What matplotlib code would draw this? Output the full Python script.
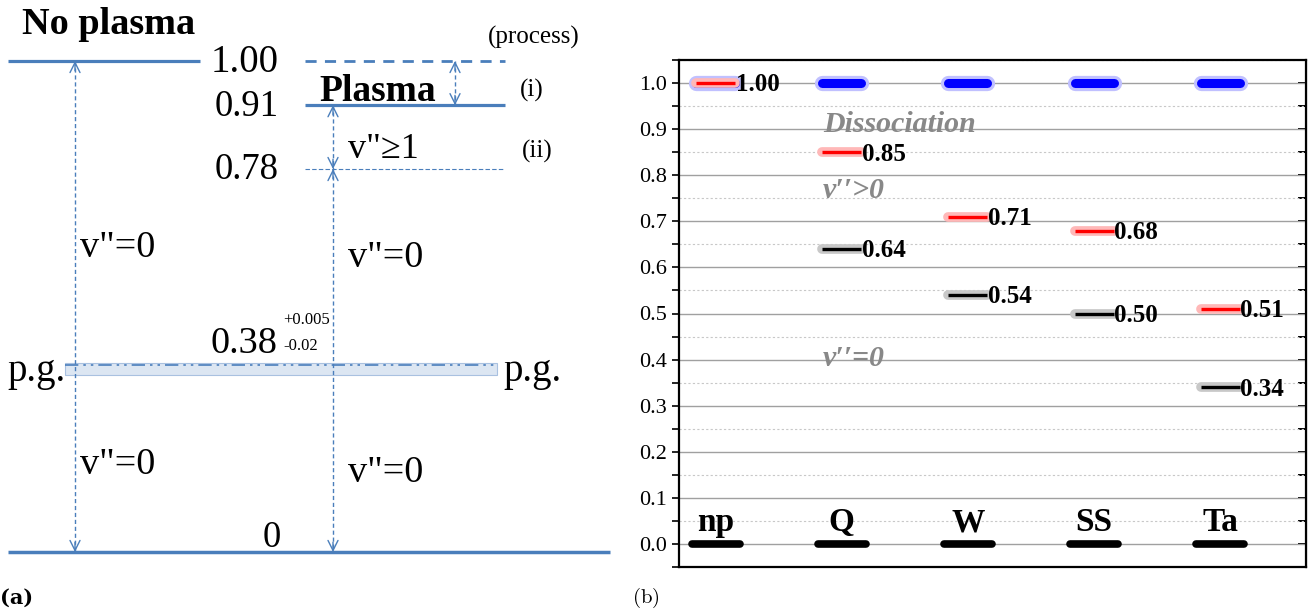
import matplotlib
matplotlib.use("Agg")
import matplotlib.pyplot as plt
from matplotlib.patches import Rectangle
from matplotlib.ticker import MultipleLocator, FormatStrFormatter

# ---------------- data ----------------
# panel (a): energy levels (normalised)
level_values = [1.00, 0.91, 0.78, 0.38, 0.0]
level_labels = ["1.00", "0.91", "0.78", "0.38", "0"]
pg_err_plus = 0.005
pg_err_minus = 0.02

# panel (b)
categories = ["np", "Q", "W", "SS", "Ta"]
no_plasma_level = [1.00, 1.00, 1.00, 1.00, 1.00]
excited_level = [1.00, 0.85, 0.71, 0.68, 0.51]
v0_level = [None, 0.64, 0.54, 0.50, 0.34]
ground_level = [0.0, 0.0, 0.0, 0.0, 0.0]

# ---------------- style ----------------
BLUE = "#4a7ebb"
SERIF = ["Liberation Serif", "DejaVu Serif"]
plt.rcParams["font.family"] = SERIF
plt.rcParams["mathtext.fontset"] = "cm"

W, H = 1310, 613
fig = plt.figure(figsize=(W / 100, H / 100), dpi=100)

# ================= panel (a) =================
axa = fig.add_axes([0, 0, 615 / W, 1])
axa.set_xlim(0, 615)
axa.set_ylim(-61 / 491, 1 + 61 / 491)
axa.axis("off")

top, plasma, vib, pg, zero = level_values

def darrow(x, y0, y1):
    axa.plot([x, x], [y0, y1], color=BLUE, lw=1.0, ls=(0, (3, 2)))
    for ya, yb in ((y0, y1), (y1, y0)):
        d = 0.02 if yb < ya else -0.02
        axa.annotate("", xy=(x, ya), xytext=(x, ya - d),
                     arrowprops=dict(arrowstyle="->", color=BLUE, lw=1.0,
                                     mutation_scale=18, shrinkA=0, shrinkB=0))

# horizontal levels
axa.plot([8, 200], [top, top], color=BLUE, lw=2.3, solid_capstyle="butt")
axa.plot([305, 505], [top, top], color=BLUE, lw=2.0, ls=(0, (4, 3)))
axa.plot([305, 505], [plasma, plasma], color=BLUE, lw=2.3, solid_capstyle="butt")
axa.plot([305, 505], [vib, vib], color=BLUE, lw=0.8, ls=(0, (4, 2)))
axa.plot([8, 610], [zero, zero], color=BLUE, lw=2.5, solid_capstyle="butt")

# p.g. band
axa.add_patch(Rectangle((65, pg - pg_err_minus), 432, pg_err_minus + pg_err_plus,
                        facecolor="#dce6f2", edgecolor="#a9c1e0", lw=0.8, zorder=1))
axa.plot([65, 497], [pg, pg], color=BLUE, lw=1.2, ls=(0, (8, 3, 1.5, 3, 1.5, 3)), zorder=2)

# arrows
darrow(75, top, zero)
darrow(455, top, plasma)
darrow(333, plasma, vib)
darrow(333, vib, zero)

# texts
axa.text(22, 1.075, "No plasma", fontsize=27.5, fontweight="bold", ha="left", va="center")
axa.text(245, top - 0.004, level_labels[0], fontsize=28, ha="center", va="center")
axa.text(247, plasma - 0.004, level_labels[1], fontsize=26.5, ha="center", va="center")
axa.text(247, vib - 0.002, level_labels[2], fontsize=26.5, ha="center", va="center")
axa.text(244, pg + 0.045, level_labels[3], fontsize=27.5, ha="center", va="center")
axa.text(283, pg + 0.0925, "+%.3f" % pg_err_plus, fontsize=12, ha="left", va="center")
axa.text(283, pg + 0.040, "-%.2f" % pg_err_minus, fontsize=12, ha="left", va="center")
axa.text(272, 0.03, level_labels[4], fontsize=26.5, ha="center", va="center")
axa.text(534, 1.047, "(process)", fontsize=18, ha="center", va="center")
axa.text(378, 0.937, "Plasma", fontsize=27, fontweight="bold", ha="center", va="center")
axa.text(532, 0.941, "(i)", fontsize=18, ha="center", va="center")
axa.text(537, 0.815, "(ii)", fontsize=18, ha="center", va="center")
axa.text(348, 0.819, 'v"\u22651', fontsize=26, ha="left", va="center")
axa.text(80, 0.619, 'v"=0', fontsize=27.5, ha="left", va="center")
axa.text(80, 0.177, 'v"=0', fontsize=27.5, ha="left", va="center")
axa.text(348, 0.599, 'v"=0', fontsize=27.5, ha="left", va="center")
axa.text(348, 0.161, 'v"=0', fontsize=27.5, ha="left", va="center")
axa.text(37, pg - 0.012, "p.g.", fontsize=28, ha="center", va="center")
axa.text(533, pg - 0.012, "p.g.", fontsize=28, ha="center", va="center")

fig.text(0.0, 1 - 598 / H, "(a)", fontsize=15, fontweight="bold",
         family=["DejaVu Serif"], ha="left", va="center")
fig.text(632 / W, 1 - 598 / H, r"$\mathrm{(b)}$", fontsize=15, ha="left", va="center")

# ================= panel (b) =================
axb = fig.add_axes([679 / W, 1 - 567 / H, (1306 - 679) / W, (567 - 60) / H])
axb.set_xlim(-0.29, 4.68)
axb.set_ylim(-0.05, 1.05)

half = 0.155
ghalf = 0.19
LBL = 18
for i, cat in enumerate(categories):
    x0, x1 = i - half, i + half
    # no-plasma (blue)
    y = no_plasma_level[i]
    axb.plot([x0, x1], [y, y], color="#c0c0ff", lw=11, solid_capstyle="round", zorder=3)
    axb.plot([x0, x1], [y, y], color="#0000ff", lw=6.5, solid_capstyle="round", zorder=4)
    # excited (red)
    y = excited_level[i]
    axb.plot([x0, x1], [y, y], color="#ffb8b8", lw=7, solid_capstyle="round", zorder=5)
    axb.plot([x0, x1], [y, y], color="#ff0000", lw=2.4, solid_capstyle="butt", zorder=6)
    axb.text(x1 + 0.005, y - 0.004, "%.2f" % y, fontsize=LBL, fontweight="bold",
             ha="left", va="center", zorder=7)
    # v''=0 (black)
    y = v0_level[i]
    if y is not None:
        axb.plot([x0, x1], [y, y], color="#c8c8c8", lw=7, solid_capstyle="round", zorder=5)
        axb.plot([x0, x1], [y, y], color="#000000", lw=2.4, solid_capstyle="butt", zorder=6)
        axb.text(x1 + 0.005, y - 0.004, "%.2f" % y, fontsize=LBL, fontweight="bold",
                 ha="left", va="center", zorder=7)
    # ground
    y = ground_level[i]
    axb.plot([i - ghalf, i + ghalf], [y, y], color="black", lw=5.5,
             solid_capstyle="round", zorder=6)
    axb.text(i, y + 0.028, cat, fontsize=24, fontweight="bold", ha="center",
             va="baseline", zorder=7)

gray = "#888888"
axb.text(0.85, 0.911, "Dissociation", fontsize=21.5, fontweight="bold", style="italic",
         color=gray, ha="left", va="center")
axb.text(0.85, 0.767, "v\u2032\u2032>0", fontsize=21.5, fontweight="bold", style="italic",
         color=gray, ha="left", va="center")
axb.text(0.85, 0.402, "v\u2032\u2032=0", fontsize=21.5, fontweight="bold", style="italic",
         color=gray, ha="left", va="center")

axb.yaxis.set_major_locator(MultipleLocator(0.1))
axb.yaxis.set_minor_locator(MultipleLocator(0.05))
axb.yaxis.set_major_formatter(FormatStrFormatter("%.1f"))
axb.grid(which="major", axis="y", color="#a0a0a0", lw=1.0)
axb.grid(which="minor", axis="y", color="#c8c8c8", lw=0.8, ls=(0, (2, 2)))
axb.set_axisbelow(True)
axb.set_xticks([])
axb.tick_params(axis="y", which="both", left=True, right=False, labelsize=16,
                direction="out", width=1.2, length=5)
for s in axb.spines.values():
    s.set_linewidth(1.6)

# right-side ticks inward
axr = axb.secondary_yaxis("right")
axr.yaxis.set_major_locator(MultipleLocator(0.1))
axr.yaxis.set_minor_locator(MultipleLocator(0.05))
axr.tick_params(axis="y", which="both", direction="in", length=6, width=1.4, labelright=False)

fig.savefig("out.png", dpi=100)
